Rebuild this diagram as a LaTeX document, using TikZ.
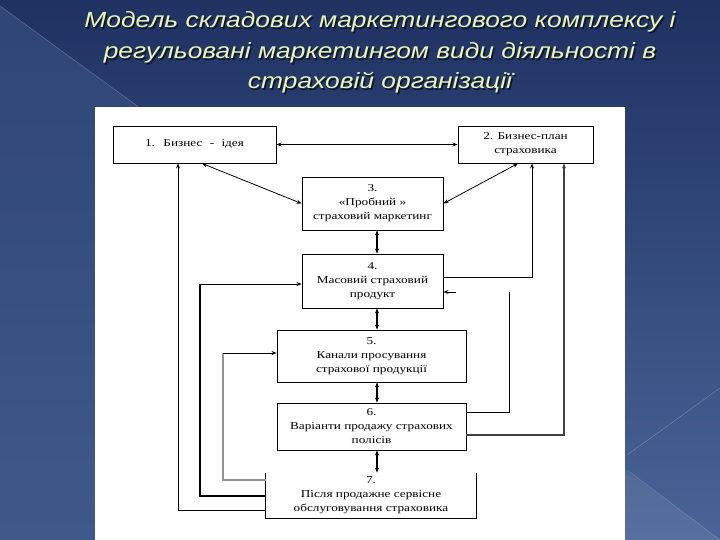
\documentclass[tikz,border=0pt]{standalone}
\usepackage{fontspec}
\setmainfont{Liberation Serif}
\newfontfamily\boxfont[FakeStretch=1.26]{Liberation Serif}
\newfontfamily\titlefont[FakeStretch=1.2]{Liberation Sans}
\usetikzlibrary{arrows.meta,calc}
\definecolor{bgtop}{HTML}{1F3262}
\definecolor{bgbot}{HTML}{4A6498}
\definecolor{bgleft}{HTML}{3A5283}
\definecolor{titlecol}{HTML}{EAF6B8}
\definecolor{shadowcol}{HTML}{0B1530}
\tikzset{
  box/.style={draw=black,line width=0.9pt,align=center,font=\boxfont\fontsize{10.5}{14}\selectfont,inner sep=2pt},
  tip/.style={-{Stealth[length=5pt,width=4pt]}},
  dtip/.style={{Stealth[length=5pt,width=4pt]}-{Stealth[length=5pt,width=4pt]}},
  ln/.style={line width=0.8pt,draw=black},
  thickln/.style={line width=1.8pt,draw=black},
  grayln/.style={line width=2pt,draw=gray!85},
  ttl/.style={font=\titlefont\itshape\fontsize{22}{26}\selectfont,text=titlecol},
  ttlsh/.style={font=\titlefont\itshape\fontsize{22}{26}\selectfont,text=shadowcol}
}
\begin{document}
\begin{tikzpicture}[x=1pt,y=-1pt]
\useasboundingbox (0,0) rectangle (720,540);
% background
\shade[top color=bgtop,bottom color=bgbot] (0,0) rectangle (720,540);
\fill[bgleft,opacity=0.6] (0,6) -- (140,108) -- (95,108) -- (95,540) -- (0,540) -- cycle;
\fill[white,opacity=0.08] (625,470) -- (720,540) -- (625,540) -- cycle;
\draw[white,opacity=0.25,line width=0.5pt] (0,6) -- (140,108);
\draw[white,opacity=0.25,line width=0.5pt] (627,455) -- (720,388);
\draw[white,opacity=0.25,line width=0.5pt] (627,470) -- (720,540);
% title
\foreach \t/\yy in {{Модель складових маркетингового комплексу  і}/22,{регульовані маркетингом види діяльності  в}/53,{страховій організації}/83}{
  \node[ttlsh] at (381.5,\yy+1.5) {\t};
  \node[ttl] at (380,\yy) {\t};
}
% panel
\fill[white] (95,107) rectangle (625,540);
% boxes
\node[box,minimum width=163pt,minimum height=37pt] (b1) at (194.5,144.5) {1.\hspace{4pt} Бизнес\hspace{4pt} - \hspace{4pt}ідея};
\node[box,minimum width=135pt,minimum height=37pt] (b2) at (525.5,144.5) {2. Бизнес-план\\страховика};
\node[box,minimum width=141pt,minimum height=53pt] (b3) at (372.5,203.5) {3.\\«Пробний »\\страховий маркетинг};
\node[box,minimum width=141pt,minimum height=54pt] (b4) at (372.5,281) {4.\\Масовий страховий\\продукт};
\node[box,minimum width=189pt,minimum height=52pt] (b5) at (371.5,356) {5.\\Канали просування\\страхової продукції};
\node[box,minimum width=189pt,minimum height=47pt] (b6) at (371.5,426.5) {6.\\Варіанти продажу страхових\\полісів};
\node[box,draw=none,minimum width=210pt,minimum height=45pt] (b7) at (371,495.5) {7.\\Після продажне сервісне\\обслуговування страховика};
\draw[line width=1.3pt] (b7.north west) -- (b7.south west) -- (b7.south east) -- (b7.north east);
% coordinates
\coordinate (mx) at (377,0);
\coordinate (d1) at (202,0);
\coordinate (d2) at (518,0);
\coordinate (o1) at (178,510);
\coordinate (m1) at (200,496);
\coordinate (m2) at (200,284);
\coordinate (g1) at (223,480);
\coordinate (g2) at (223,353);
\coordinate (r1) at (532,277);
\coordinate (r2) at (564,435);
\coordinate (r3) at (509,412);
\coordinate (r4) at (509,292);
\coordinate (s1) at (456,292);
% top connectors
\draw[ln,dtip] (b1.east) -- (b2.west);
\draw[ln,dtip] (b1.south -| d1) -- (b3.west);
\draw[ln,dtip] (b2.south -| d2) -- (b3.east);
% central chain
\draw[thickln,dtip] (b3.south -| mx) -- (b4.north -| mx);
\draw[thickln,dtip] (b4.south -| mx) -- (b5.north -| mx);
\draw[thickln,dtip] (b5.south -| mx) -- (b6.north -| mx);
\draw[thickln,dtip] (b6.south -| mx) -- (b7.north -| mx);
% left feedback
\draw[ln,tip] (b7.west |- o1) -| (b1.south -| o1);
\draw[thickln] (b7.west |- m1) -| (m2);
\draw[ln,tip] (m2) -- (b4.west |- m2);
\draw[grayln] (b7.west |- g1) -| (g2);
\draw[ln,tip] (g2) -- (b5.west |- g2);
% right feedback
\draw[ln,tip] (b4.east |- r1) -| (b2.south -| r1);
\draw[ln,draw=black!75,line width=1.1pt,tip] (b6.east |- r2) -| (b2.south -| r2);
\draw[ln] (b6.east |- r3) -| (r4);
\draw[ln,tip] (s1) -- (b4.east |- s1);
\end{tikzpicture}
\end{document}
